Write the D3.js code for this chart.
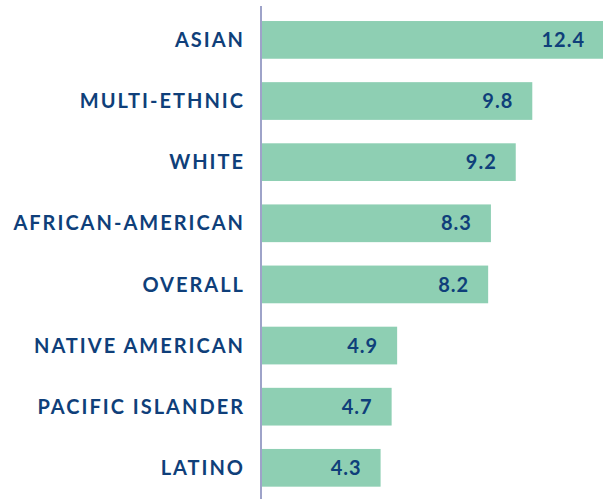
<!DOCTYPE html>
<html>
<head>
<meta charset="utf-8">
<script src="https://cdn.jsdelivr.net/npm/d3@7"></script>
<style>
	body { margin: 0; background: #fff; }
	text { font-family: Lato, "Open Sans", sans-serif; font-weight: 700; fill: #0f3f7a; }
</style>
</head>
<body>
<svg id="svg"></svg>
<script>
var categories = ["ASIAN", "MULTI-ETHNIC", "WHITE", "AFRICAN-AMERICAN", "OVERALL", "NATIVE AMERICAN", "PACIFIC ISLANDER", "LATINO"];
var values = [12.4, 9.8, 9.2, 8.3, 8.2, 4.9, 4.7, 4.3];

var width = 603, height = 499;
var svg = d3.select("#svg")
	.attr("width", width)
	.attr("height", height);

var x = d3.scaleLinear()
	.domain([0, 12.4])
	.range([262, 604]);

var y = d3.scaleBand()
	.domain(categories)
	.range([8.8, 498.9])
	.paddingInner(0.383)
	.paddingOuter(0.2);

var data = categories.map(function(c, i) { return { cat: c, val: values[i] }; });

var bar = svg.selectAll(".bar")
	.data(data)
	.enter().append("g")
	.attr("class", "bar");

bar.append("rect")
	.attr("x", x(0))
	.attr("y", function(d) { return y(d.cat); })
	.attr("width", function(d) { return x(d.val) - x(0); })
	.attr("height", y.bandwidth())
	.attr("fill", "#8ecfb3");

bar.append("text")
	.attr("x", function(d) { return x(d.val) - 19; })
	.attr("y", function(d) { return y(d.cat) + y.bandwidth() / 2; })
	.attr("dy", "0.36em")
	.attr("text-anchor", "end")
	.attr("font-size", "20px")
	.attr("letter-spacing", "1px")
	.text(function(d) { return d.val.toFixed(1); });

bar.append("text")
	.attr("x", 245)
	.attr("y", function(d) { return y(d.cat) + y.bandwidth() / 2; })
	.attr("dy", "0.36em")
	.attr("text-anchor", "end")
	.attr("font-size", "20px")
	.attr("letter-spacing", "2px")
	.text(function(d) { return d.cat; });

svg.append("line")
	.attr("x1", 261)
	.attr("x2", 261)
	.attr("y1", 6)
	.attr("y2", height)
	.attr("stroke", "#9ea3c9")
	.attr("stroke-width", 2);
</script>
</body>
</html>
